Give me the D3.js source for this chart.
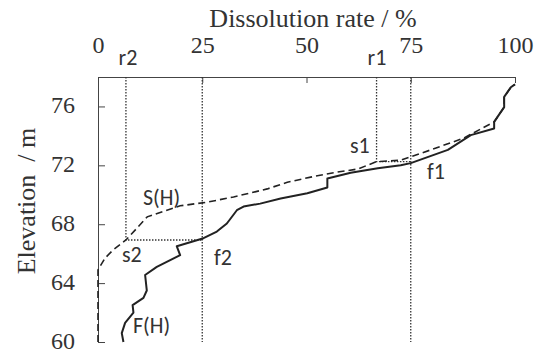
<!DOCTYPE html>
<html lang="en">
<head>
<meta charset="UTF-8">
<title>Dissolution rate vs elevation</title>
</head>
<body style="margin:0;background:#fff">
<svg id="chart" width="544" height="353"></svg>
<script src="https://d3js.org/d3.v7.min.js"></script>
<script>
// rate in %, elevation in m
const rateTicks = [0, 25, 50, 75, 100];
const elevTicks = [60, 64, 68, 72, 76];

// F(H) solid curve
const fRate = [6.1, 5.7, 6.5, 8.5, 8.3, 10.9, 11.7, 11.3, 14.1, 19.7, 18.9, 25.3, 28.5, 30.9, 33.3, 34.9, 38.9, 43.8, 50.2, 55.0, 55.0, 60.6, 67.1, 72.6, 75.0, 83.9, 89.4, 95.0, 95.0, 97.4, 97.4, 99.0, 100];
const fElev = [60.0, 60.6, 61.3, 62.0, 62.5, 63.0, 63.5, 64.55, 65.1, 65.9, 66.5, 67.05, 67.5, 68.05, 68.95, 69.2, 69.4, 69.75, 70.1, 70.5, 71.1, 71.5, 71.8, 72.0, 72.15, 73.05, 74.05, 74.5, 74.95, 75.95, 76.65, 77.3, 77.5];

// S(H) dashed curve
const sRate = [0, 0, 1.7, 3.6, 6.7, 8.9, 11.8, 14.9, 19.7, 26.2, 32.5, 40.6, 45.4, 51.0, 56.5, 62.3, 66.8, 72.6, 79.8, 87.7, 95.0, 97.4, 97.4, 99.0, 100];
const sElev = [60, 64.9, 65.7, 66.25, 66.93, 67.6, 68.5, 68.8, 69.25, 69.5, 69.85, 70.4, 70.85, 71.2, 71.5, 71.75, 72.25, 72.35, 73.05, 73.85, 74.95, 75.95, 76.65, 77.3, 77.5];

// reference rates and their elevations
const r1 = { rate: 66.8, elev: 72.25 };
const r2 = { rate: 6.7, elev: 66.93 };
const fLines = [25, 75];

const serif = "Liberation Serif";
const sans = "Carlito";

const svg = d3.select("#chart");
const x = d3.scaleLinear().domain([0, 100]).range([98, 515]);
const y = d3.scaleLinear().domain([60, 78]).range([342, 77]);

// axes (ticks point inward)
const topAxis = svg.append("g")
  .attr("transform", `translate(0,${y(78)})`)
  .call(d3.axisTop(x).tickValues(rateTicks).tickSizeInner(-6).tickSizeOuter(0).tickPadding(24));

const leftAxis = svg.append("g")
  .attr("transform", `translate(${x(0)},0)`)
  .call(d3.axisLeft(y).tickValues(elevTicks).tickSizeInner(-7).tickSizeOuter(0).tickPadding(23));

[topAxis, leftAxis].forEach(g => {
  g.attr("font-family", serif).attr("font-size", 24);
  g.selectAll("path, line").attr("stroke", "#444");
  g.selectAll("text").attr("fill", "#333");
});
// keep the bottom label inside the frame
leftAxis.selectAll("text").attr("dy", "0.26em");

// titles
svg.append("text")
  .attr("x", 313).attr("y", 27)
  .attr("text-anchor", "middle")
  .attr("font-family", serif).attr("font-size", 26).attr("fill", "#333")
  .text("Dissolution rate / %");

svg.append("text")
  .attr("transform", "translate(35,201) rotate(-90)")
  .attr("text-anchor", "middle")
  .attr("font-family", serif).attr("font-size", 26).attr("fill", "#333")
  .style("white-space", "pre")
  .text("Elevation  / m");

// dotted guide lines
const dotted = svg.append("g")
  .attr("fill", "none").attr("stroke", "#333").attr("stroke-width", 1.3)
  .attr("stroke-dasharray", "1.5,1.5");

fLines.forEach(v => {
  dotted.append("line")
    .attr("x1", x(v)).attr("x2", x(v))
    .attr("y1", y(78)).attr("y2", y(60));
});

[r1, r2].forEach(r => {
  dotted.append("path")
    .attr("d", d3.line()([[x(r.rate), y(78)], [x(r.rate), y(r.elev)], [r === r1 ? x(75) : x(25), y(r.elev)]]));
});

// curves
const line = d3.line().x(d => x(d[0])).y(d => y(d[1]));

svg.append("path")
  .datum(sRate.map((v, i) => [v, sElev[i]]))
  .attr("d", line)
  .attr("fill", "none").attr("stroke", "#222").attr("stroke-width", 1.6)
  .attr("stroke-dasharray", "7,4");

svg.append("path")
  .datum(fRate.map((v, i) => [v, fElev[i]]))
  .attr("d", line)
  .attr("fill", "none").attr("stroke", "#222").attr("stroke-width", 2)
  .attr("stroke-linejoin", "round");

// annotations
const notes = [
  { t: "r2", x: 128, y: 65, a: "middle" },
  { t: "r1", x: 377, y: 65, a: "middle" },
  { t: "s1", x: 350, y: 153, a: "start" },
  { t: "f1", x: 427, y: 179, a: "start" },
  { t: "s2", x: 122, y: 262, a: "start" },
  { t: "f2", x: 214, y: 265, a: "start" },
  { t: "S(H)", x: 143, y: 205, a: "start" },
  { t: "F(H)", x: 133, y: 333, a: "start" }
];

svg.selectAll(".note").data(notes).enter().append("text")
  .attr("class", "note")
  .attr("x", d => d.x).attr("y", d => d.y)
  .attr("text-anchor", d => d.a)
  .attr("font-family", sans).attr("font-size", 22).attr("fill", "#333")
  .text(d => d.t);
</script>
</body>
</html>
